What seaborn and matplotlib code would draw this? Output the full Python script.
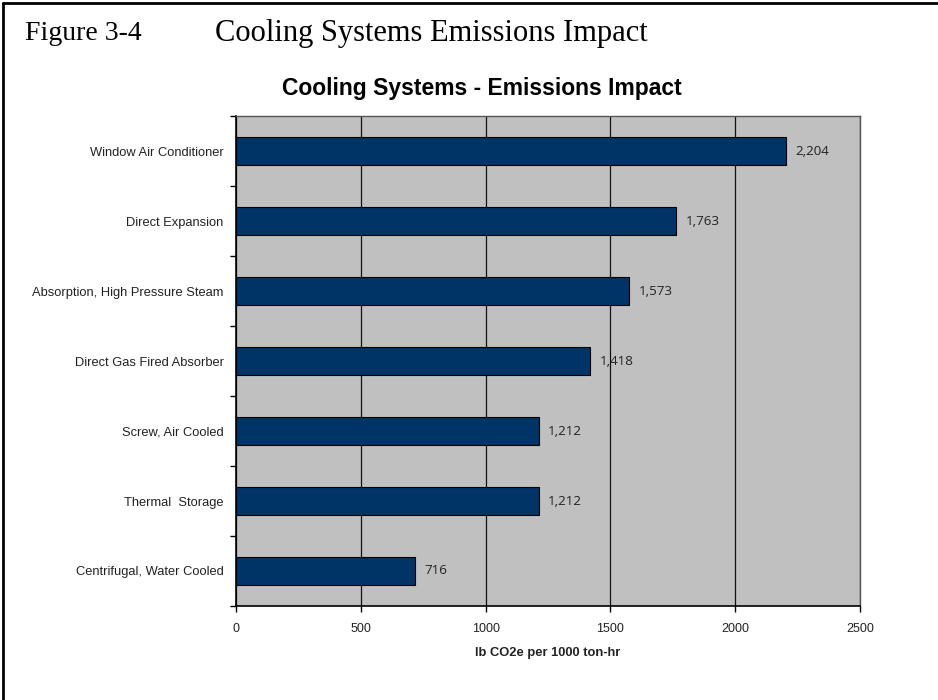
import matplotlib
matplotlib.use("Agg")
import matplotlib.pyplot as plt
import seaborn as sns
import pandas as pd
from matplotlib.lines import Line2D

categories = [
    "Window Air Conditioner",
    "Direct Expansion",
    "Absorption, High Pressure Steam",
    "Direct Gas Fired Absorber",
    "Screw, Air Cooled",
    "Thermal  Storage",
    "Centrifugal, Water Cooled",
]
values = [2204, 1763, 1573, 1418, 1212, 1212, 716]
x_ticks = [0, 500, 1000, 1500, 2000, 2500]

df = pd.DataFrame({"system": categories, "value": values})

sns.set_theme(style="white")
plt.rcParams["font.family"] = ["Liberation Sans", "DejaVu Sans"]

fig = plt.figure(figsize=(9.38, 7.0), dpi=100)
ax = fig.add_axes([236 / 938, 1 - 606 / 700, 624 / 938, 490 / 700])
ax.set_facecolor("#C0C0C0")

sns.barplot(data=df, x="value", y="system", orient="h", color="#003366",
            edgecolor="black", linewidth=0.8, width=0.4, saturation=1,
            ax=ax, zorder=3)

ax.set_xlim(0, 2500)
ax.set_ylim(len(categories) - 0.5, -0.5)
ax.set_xticks(x_ticks)
ax.set_xticklabels([str(t) for t in x_ticks], fontsize=9, color="#222222")
ax.grid(axis="x", color="#111111", linewidth=0.9, zorder=1)
ax.grid(axis="y", visible=False)
ax.set_axisbelow(True)

ax.tick_params(axis="y", which="major", length=0, pad=9, labelsize=9.3,
               labelcolor="#222222")
ax.set_yticks([i + 0.5 for i in range(-1, len(categories))], minor=True)
ax.tick_params(axis="y", which="minor", length=4, width=1, color="black",
               direction="out", left=True)
ax.tick_params(axis="x", which="major", length=4, width=1, color="black",
               direction="out", bottom=True, pad=8)

ax.set_xlabel("lb CO2e per 1000 ton-hr", fontsize=9.3, fontweight="bold",
              labelpad=9, color="#222222")
ax.set_ylabel("")

for side in ["left", "bottom"]:
    ax.spines[side].set_color("black")
    ax.spines[side].set_linewidth(1.2)
for side in ["top", "right"]:
    ax.spines[side].set_color("#555555")
    ax.spines[side].set_linewidth(1.0)

for cont in ax.containers:
    ax.bar_label(cont, labels=[f"{v:,}" for v in values], padding=7,
                 fontsize=9.6, color="#222222", family=["Open Sans", "DejaVu Sans"])

fig.text(482 / 938, 1 - 88 / 700,
         "Cooling Systems - Emissions Impact", ha="center", va="center",
         fontsize=16.5, fontweight="bold", color="black")

fig.text(25 / 938, 1 - 33 / 700, "Figure 3-4", ha="left", va="center",
         fontsize=20, family=["Liberation Serif", "DejaVu Serif"], color="black")
fig.text(215 / 938, 1 - 33 / 700, "Cooling Systems Emissions Impact", ha="left",
         va="center", fontsize=22, family=["Liberation Serif", "DejaVu Serif"],
         color="black")

fig.add_artist(Line2D([3 / 938, 3 / 938], [0, 1 - 3 / 700], transform=fig.transFigure,
                      color="black", linewidth=2))
fig.add_artist(Line2D([3 / 938, 1], [1 - 3 / 700, 1 - 3 / 700], transform=fig.transFigure,
                      color="black", linewidth=2))

fig.savefig("out.png", dpi=100)
